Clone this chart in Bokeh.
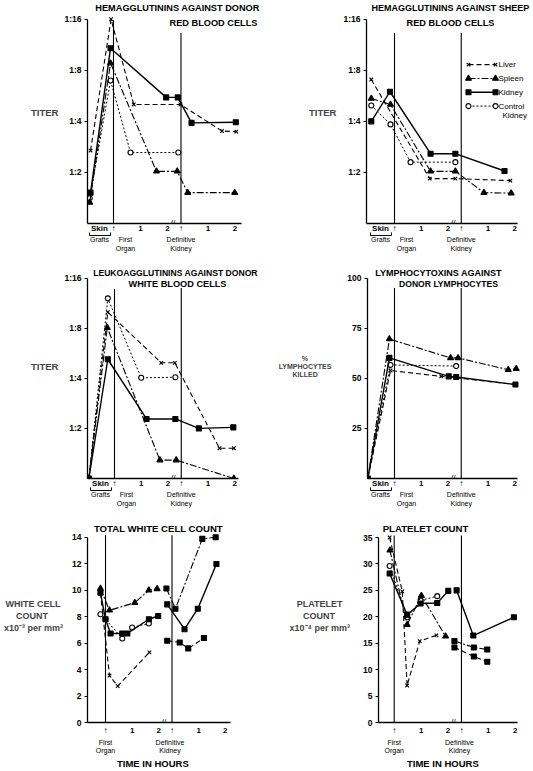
from bokeh.plotting import figure
from bokeh.layouts import column, row
from bokeh.models import Range1d, FixedTicker, Label, LinearAxis
from bokeh.embed import file_html
from bokeh.resources import INLINE

# ---------------- data ----------------
# time axis: hours after first organ (first organ = 0); definitive kidney at 2.5,
# hours after the definitive kidney shown at 3.5 and 4.5; skin grafts at left.
FIRST_ORGAN = 0.0
DEF_KIDNEY = 2.5
TIME_TICKS = [1, 2, 3.5, 4.5]
TIME_TICK_LABELS = ["1", "2", "1", "2"]

TITER_TICKS = [2, 4, 8, 16]
TITER_TICK_LABELS = ["1:2", "1:4", "1:8", "1:16"]

# A: hemagglutinins against donor red blood cells (reciprocal titer)
hd_liver_t = [-0.85, -0.09, 0.75, 2.48, 4.02, 4.55]
hd_liver = [2.69, 16.0, 5.03, 5.03, 3.51, 3.48]
hd_spleen_t = [-0.88, -0.11, 1.59, 2.36, 2.75, 4.49]
hd_spleen = [1.33, 8.82, 2.03, 2.03, 1.52, 1.52]
hd_kidney_t = [-0.85, -0.11, 1.95, 2.38, 2.89, 4.53]
hd_kidney = [1.52, 10.8, 5.54, 5.54, 3.92, 3.95]
hd_control_t = [-0.88, -0.11, 0.63, 2.40]
hd_control = [1.41, 6.96, 2.62, 2.62]

# B: hemagglutinins against sheep red blood cells
hs_liver_t = [-0.87, 1.32, 2.28, 4.34]
hs_liver = [7.06, 1.84, 1.84, 1.79]
hs_spleen_t = [-0.87, -0.15, 1.35, 2.28, 3.35, 4.37]
hs_spleen = [5.46, 5.03, 2.03, 2.03, 1.52, 1.51]
hs_kidney_t = [-0.87, -0.17, 1.35, 2.28, 4.12]
hs_kidney = [4.0, 5.98, 2.58, 2.58, 2.04]
hs_control_t = [-0.87, -0.15, 0.60, 2.28]
hs_control = [4.96, 3.84, 2.30, 2.30]

# C: leukoagglutinins against donor white blood cells
lk_liver_t = [-0.96, -0.25, 1.75, 2.26, 3.93, 4.47]
lk_liver = [1.0, 9.99, 4.96, 4.96, 1.52, 1.52]
lk_spleen_t = [-0.96, -0.27, 1.70, 2.31, 4.47]
lk_spleen = [1.0, 8.06, 1.29, 1.29, 1.0]
lk_kidney_t = [-0.96, -0.25, 1.20, 2.28, 3.16, 4.45]
lk_kidney = [1.0, 5.21, 2.28, 2.28, 2.0, 2.03]
lk_control_t = [-0.96, -0.25, 1.0, 2.28]
lk_control = [1.0, 12.1, 4.03, 4.06]

# D: lymphocytotoxins against donor lymphocytes (% lymphocytes killed)
ly_liver_t = [-1.0, -0.15, 1.75, 2.31, 4.53]
ly_liver = [0, 53.9, 51.0, 50.3, 46.9]
ly_spleen_t = [-1.0, -0.19, 2.10, 2.38, 4.26, 4.56]
ly_spleen = [0, 69.6, 60.2, 60.2, 54.3, 54.8]
ly_kidney_t = [-1.0, -0.19, 2.03, 2.31, 4.53]
ly_kidney = [0, 60.2, 51.0, 50.7, 46.9]
ly_control_t = [-1.0, -0.15, 2.31]
ly_control = [0, 56.7, 56.1]

# E: total white cell count (x10^-3 per mm^3)
wb_liver_t = [-0.19, 0.15, 0.46, 1.65]
wb_liver = [9.8, 3.55, 2.75, 5.3]
wb_spleen_t = [-0.19, 0.15, 1.10, 1.63, 1.94]
wb_spleen = [10.13, 8.48, 9.05, 10.0, 10.1]
wb_kidney_t = [-0.19, 0.0, 0.19, 0.63, 0.82, 1.63, 1.98]
wb_kidney = [9.8, 7.8, 6.73, 6.73, 6.73, 7.8, 8.05]
wb_control_t = [-0.19, 0.0, 0.63, 1.0, 1.63]
wb_control = [8.18, 7.8, 6.35, 7.18, 7.48]
wb_liver_dk_t = [2.32, 2.79, 3.11, 3.70]
wb_liver_dk = [6.18, 6.05, 5.6, 6.38]
wb_spleen_dk_t = [2.29, 2.63, 3.64, 4.14]
wb_spleen_dk = [10.13, 8.6, 13.88, 14.0]
wb_kidney_dk_t = [2.32, 2.97, 3.47, 4.17]
wb_kidney_dk = [8.93, 7.05, 8.6, 11.98]

# F: platelet count (x10^-4 per mm^3)
pl_liver_t = [-0.17, 0.30, 0.48, 0.95, 1.57]
pl_liver = [35.0, 24.8, 7.0, 15.4, 16.5]
pl_spleen_t = [-0.16, 0.48, 1.01, 1.91]
pl_spleen = [32.6, 18.5, 24.0, 16.3]
pl_kidney_t = [-0.17, 0.48, 0.98, 1.60, 2.01]
pl_kidney = [28.2, 20.4, 22.5, 22.6, 24.9]
pl_control_t = [-0.17, 0.48, 0.98, 1.60]
pl_control = [29.6, 19.9, 23.1, 23.9]
pl_kidney_dk_t = [2.32, 2.94, 4.45]
pl_kidney_dk = [25.0, 16.45, 19.9]
pl_spleen_dk_t = [2.24, 2.96, 3.46]
pl_spleen_dk = [15.4, 14.2, 13.8]
pl_liver_dk_t = [2.24, 2.96, 3.46]
pl_liver_dk = [14.2, 12.5, 11.5]

# ---------------- styling / layout ----------------
FONT = "Liberation Sans"
NB = "\u00a0"
STYLE = {
    "liver": dict(dash="5 3", marker="x", width=1.1),
    "spleen": dict(dash="7 2 2 2", marker="triangle", width=1.1),
    "kidney": dict(dash="solid", marker="square", width=1.4),
    "control": dict(dash="2 2", marker="circle", width=1.0),
}

# page-pixel geometry: figure origin, size, axes box (L, Raxis, Taxis, B)
SPEC = {
    "A": dict(origin=(0, 0), size=(268, 254), frame=(87, 241, 19, 226), xr=(-0.963, 4.741), yr=(1, 16), log=True),
    "B": dict(origin=(268, 0), size=(265, 254), frame=(366, 517, 19, 226), xr=(-1.049, 4.607), yr=(1, 16), log=True),
    "C": dict(origin=(0, 254), size=(268, 255), frame=(87, 238, 278, 481), xr=(-1.011, 4.644), yr=(1, 16), log=True),
    "D": dict(origin=(268, 254), size=(265, 255), frame=(367, 517, 278, 481), xr=(-1.011, 4.607), yr=(0, 100), log=False),
    "E": dict(origin=(0, 509), size=(268, 262), frame=(87, 230, 537, 724), xr=(-0.677, 4.699), yr=(0, 14), log=False),
    "F": dict(origin=(268, 509), size=(265, 262), frame=(378, 517, 537, 722), xr=(-0.584, 4.584), yr=(0, 35), log=False),
}


def xdata(spec, X):
    L, R, T, B = spec["frame"]
    x0, x1 = spec["xr"]
    return x0 + (X - L) / (R - L) * (x1 - x0)


def xpx(spec, x):
    L, R, T, B = spec["frame"]
    x0, x1 = spec["xr"]
    return L + (x - x0) / (x1 - x0) * (R - L)


def ydata(spec, Y):
    L, R, T, B = spec["frame"]
    y0, y1 = spec["yr"]
    f = (B - Y) / (B - T)
    if spec["log"]:
        return y0 * (y1 / y0) ** f
    return y0 + f * (y1 - y0)


def put(p, spec, X, Y, text, size=8, bold=False, align="center"):
    p.add_layout(Label(x=xdata(spec, X), y=ydata(spec, Y), text=text,
                       text_align=align, text_baseline="middle",
                       text_font=FONT, text_font_size=f"{size}px",
                       text_font_style="bold" if bold else "normal",
                       text_color="black"))


def make_fig(spec, yticks, ylabels, ylabel, ylabel_size, ylabel_standoff):
    L, R, T, B = spec["frame"]
    ox, oy = spec["origin"]
    w, h = spec["size"]
    x_end = xdata(spec, ox + w)
    y_end = ydata(spec, oy)
    p = figure(width=w, height=h,
               x_range=Range1d(spec["xr"][0], x_end), y_range=Range1d(spec["yr"][0], y_end),
               y_axis_type="log" if spec["log"] else "linear",
               output_backend="svg", toolbar_location=None, title=None,
               min_border_left=L - ox, min_border_right=0,
               min_border_top=0, min_border_bottom=oy + h - B)
    p.outline_line_color = None
    p.xgrid.visible = False
    p.ygrid.visible = False
    p.background_fill_color = "white"
    p.border_fill_color = "white"
    for ax in (p.xaxis[0], p.yaxis[0]):
        ax.axis_line_color = "black"
        ax.axis_line_width = 1.3
        ax.minor_tick_line_color = None
        ax.major_label_text_font = FONT
        ax.major_label_text_font_style = "bold"
        ax.major_label_text_color = "black"
    p.xaxis.bounds = spec["xr"]
    p.yaxis.bounds = spec["yr"]
    p.yaxis.ticker = FixedTicker(ticks=yticks)
    p.yaxis.major_label_overrides = dict(zip(yticks, ylabels))
    p.yaxis.major_tick_out = 3
    p.yaxis.major_tick_in = 0
    p.yaxis.major_label_text_font_size = "8.5px"
    p.yaxis.major_label_standoff = 3
    p.yaxis.axis_label = ylabel
    p.yaxis.axis_label_text_font = FONT
    p.yaxis.axis_label_text_font_style = "bold"
    p.yaxis.axis_label_text_font_size = ylabel_size
    p.yaxis.axis_label_standoff = ylabel_standoff
    p.yaxis.axis_label_orientation = "horizontal"
    return p


def note_axis(p, ticks, labels, size="7px", bold=False, standoff=0, main=False):
    ticks = [round(t, 3) for t in ticks]
    ax = p.xaxis[0] if main else LinearAxis()
    ax.ticker = FixedTicker(ticks=ticks)
    ax.major_label_overrides = dict(zip(ticks, labels))
    if not main:
        ax.axis_line_color = None
    ax.major_tick_line_color = None
    ax.major_tick_out = 0
    ax.major_tick_in = 0
    ax.minor_tick_line_color = None
    ax.minor_tick_out = 0
    ax.minor_tick_in = 0
    ax.major_label_standoff = standoff
    ax.major_label_text_font = FONT
    ax.major_label_text_font_size = size
    ax.major_label_text_font_style = "bold" if bold else "normal"
    ax.major_label_text_color = "black"
    if not main:
        p.add_layout(ax, "below")


def bracket_axis(p, a, b):
    # zero-height axis drawing the "Skin Grafts" bracket
    a, b = round(a, 3), round(b, 3)
    br = LinearAxis(bounds=(a, b), ticker=FixedTicker(ticks=[a, b]),
                    major_label_overrides={a: "", b: ""},
                    major_label_text_font_size="0px", major_label_standoff=0,
                    major_tick_in=3, major_tick_out=0, major_tick_line_color="black",
                    major_tick_line_width=1, minor_tick_line_color=None,
                    minor_tick_in=0, minor_tick_out=0,
                    axis_line_color="black", axis_line_width=1)
    p.add_layout(br, "below")


def time_axes(p, spec, bottom_row=False, time_label_X=None):
    xf = xpx(spec, FIRST_ORGAN)
    xk = xpx(spec, DEF_KIDNEY)
    if bottom_row:
        note_axis(p, [FIRST_ORGAN, DEF_KIDNEY] + TIME_TICKS, ["\u2191", "\u2191"] + TIME_TICK_LABELS,
                  size="8px", bold=True, standoff=3, main=True)
        note_axis(p, [FIRST_ORGAN, xdata(spec, xk - 2)], ["First", "Definitive"], standoff=1)
        note_axis(p, [FIRST_ORGAN, xdata(spec, xk - 2)], ["Organ", "Kidney"], standoff=-2)
        note_axis(p, [xdata(spec, time_label_X)], ["TIME  IN  HOURS"], size="9.5px", bold=True, standoff=1)
    else:
        sx = xdata(spec, xf - 14)
        note_axis(p, [sx, FIRST_ORGAN, DEF_KIDNEY] + TIME_TICKS, ["Skin", "\u2191", "\u2191"] + TIME_TICK_LABELS,
                  size="8px", bold=True, standoff=0, main=True)
        bracket_axis(p, xdata(spec, xf - 24), xdata(spec, xf - 3))
        fx = xdata(spec, xf + 12)
        note_axis(p, [sx, fx, DEF_KIDNEY], ["Grafts", "First", "Definitive"], standoff=0)
        note_axis(p, [fx, DEF_KIDNEY], ["Organ", "Kidney"], standoff=-1)
    put(p, spec, xk - 8, spec["frame"][3] - 1, "//", 8)


def series(p, t, v, kind, marker=None):
    st = STYLE[kind]
    p.line(t, v, line_color="black", line_width=st["width"], line_dash=st["dash"])
    m = marker or st["marker"]
    p.scatter(t, v, marker=m, size=6 if m == "triangle" else 5,
              line_color="black", fill_color="white" if m == "circle" else "black",
              line_width=1.1)


def event_lines(p, spec, top_fo_Y, top_dk_Y):
    y0 = spec["yr"][0]
    p.segment(x0=[FIRST_ORGAN, DEF_KIDNEY], y0=[y0, y0],
              x1=[FIRST_ORGAN, DEF_KIDNEY],
              y1=[ydata(spec, top_fo_Y), ydata(spec, top_dk_Y)],
              line_color="black", line_width=1.1)


# ---------------- panel A ----------------
sA = SPEC["A"]
pA = make_fig(sA, TITER_TICKS, TITER_TICK_LABELS, "TITER", "9.5px", 3)
event_lines(pA, sA, 20, 33)
series(pA, hd_control_t, hd_control, "control")
series(pA, hd_spleen_t, hd_spleen, "spleen")
series(pA, hd_liver_t, hd_liver, "liver")
series(pA, hd_kidney_t, hd_kidney, "kidney")
put(pA, sA, 177, 8, "HEMAGGLUTININS AGAINST DONOR", 9.2, bold=True)
put(pA, sA, 213, 23, "RED BLOOD CELLS", 9.2, bold=True)
time_axes(pA, sA)

# ---------------- panel B ----------------
sB = SPEC["B"]
pB = make_fig(sB, TITER_TICKS, TITER_TICK_LABELS, "TITER", "9.5px", 4)
event_lines(pB, sB, 33, 33)
series(pB, hs_control_t, hs_control, "control")
series(pB, hs_spleen_t, hs_spleen, "spleen")
series(pB, hs_liver_t, hs_liver, "liver")
series(pB, hs_kidney_t, hs_kidney, "kidney")
put(pB, sB, 450, 8, "HEMAGGLUTININS AGAINST SHEEP", 9.0, bold=True)
put(pB, sB, 450, 23, "RED BLOOD CELLS", 9.2, bold=True)
time_axes(pB, sB)
# legend
legend_rows = [("liver", "Liver", 65), ("spleen", "Spleen", 79), ("kidney", "Kidney", 93), ("control", "Control", 107)]
for kind, name, Y in legend_rows:
    lx = [xdata(sB, 468), xdata(sB, 495)]
    ly = [ydata(sB, Y), ydata(sB, Y)]
    series(pB, lx, ly, kind)
    put(pB, sB, 498, Y, name, 8, align="left")
put(pB, sB, 502, 117, "Kidney", 8, align="left")

# ---------------- panel C ----------------
sC = SPEC["C"]
pC = make_fig(sC, TITER_TICKS, TITER_TICK_LABELS, "TITER", "9.5px", 3)
event_lines(pC, sC, 289, 288)
series(pC, lk_control_t, lk_control, "control")
series(pC, lk_spleen_t, lk_spleen, "spleen")
series(pC, lk_liver_t, lk_liver, "liver")
series(pC, lk_kidney_t, lk_kidney, "kidney")
put(pC, sC, 175, 273, "LEUKOAGGLUTININS AGAINST DONOR", 8.6, bold=True)
put(pC, sC, 177, 284, "WHITE BLOOD CELLS", 9.2, bold=True)
time_axes(pC, sC)

# ---------------- panel D ----------------
sD = SPEC["D"]
pD = make_fig(sD, [25, 50, 75, 100], ["25", "50", "75", "100"],
              "%" + NB * 12 + "\nLYMPHOCYTES\nKILLED" + NB * 7, "7px", 13)
event_lines(pD, sD, 288, 288)
series(pD, ly_control_t, ly_control, "control")
series(pD, ly_spleen_t, ly_spleen, "spleen")
series(pD, ly_liver_t, ly_liver, "liver")
series(pD, ly_kidney_t, ly_kidney, "kidney")
put(pD, sD, 438, 273, "LYMPHOCYTOXINS AGAINST", 9.0, bold=True)
put(pD, sD, 448, 284, "DONOR LYMPHOCYTES", 8.6, bold=True)
time_axes(pD, sD)

# ---------------- panel E ----------------
sE = SPEC["E"]
pE = make_fig(sE, list(range(0, 15, 2)), [str(v) for v in range(0, 15, 2)],
              "WHITE CELL" + NB + "\nCOUNT" + NB * 6 + "\nx10\u207b\u00b3 per mm\u00b3", "9px", 6)
event_lines(pE, sE, 535, 535)
series(pE, wb_control_t, wb_control, "control")
series(pE, wb_spleen_t, wb_spleen, "spleen")
series(pE, wb_liver_t, wb_liver, "liver")
series(pE, wb_kidney_t, wb_kidney, "kidney")
series(pE, wb_liver_dk_t, wb_liver_dk, "liver", marker="square")
series(pE, wb_spleen_dk_t, wb_spleen_dk, "spleen", marker="square")
series(pE, wb_kidney_dk_t, wb_kidney_dk, "kidney", marker="square")
put(pE, sE, 158, 528, "TOTAL WHITE CELL COUNT", 9.6, bold=True)
time_axes(pE, sE, bottom_row=True, time_label_X=155)

# ---------------- panel F ----------------
sF = SPEC["F"]
pF = make_fig(sF, list(range(0, 36, 5)), [str(v) for v in range(0, 36, 5)],
              "PLATELET" + NB * 3 + "\nCOUNT" + NB * 6 + "\nx10\u207b\u2074 per mm\u00b3", "9px", 10)
event_lines(pF, sF, 535, 535)
series(pF, pl_control_t, pl_control, "control")
series(pF, pl_spleen_t, pl_spleen, "spleen")
series(pF, pl_liver_t, pl_liver, "liver")
series(pF, pl_kidney_t, pl_kidney, "kidney")
series(pF, pl_liver_dk_t, pl_liver_dk, "liver", marker="square")
series(pF, pl_spleen_dk_t, pl_spleen_dk, "spleen", marker="square")
series(pF, pl_kidney_dk_t, pl_kidney_dk, "kidney", marker="square")
put(pF, sF, 425, 528, "PLATELET COUNT", 9.6, bold=True)
time_axes(pF, sF, bottom_row=True, time_label_X=445)

layout = column(row(pA, pB), row(pC, pD), row(pE, pF))
open("out.html", "w").write(file_html(layout, INLINE))
